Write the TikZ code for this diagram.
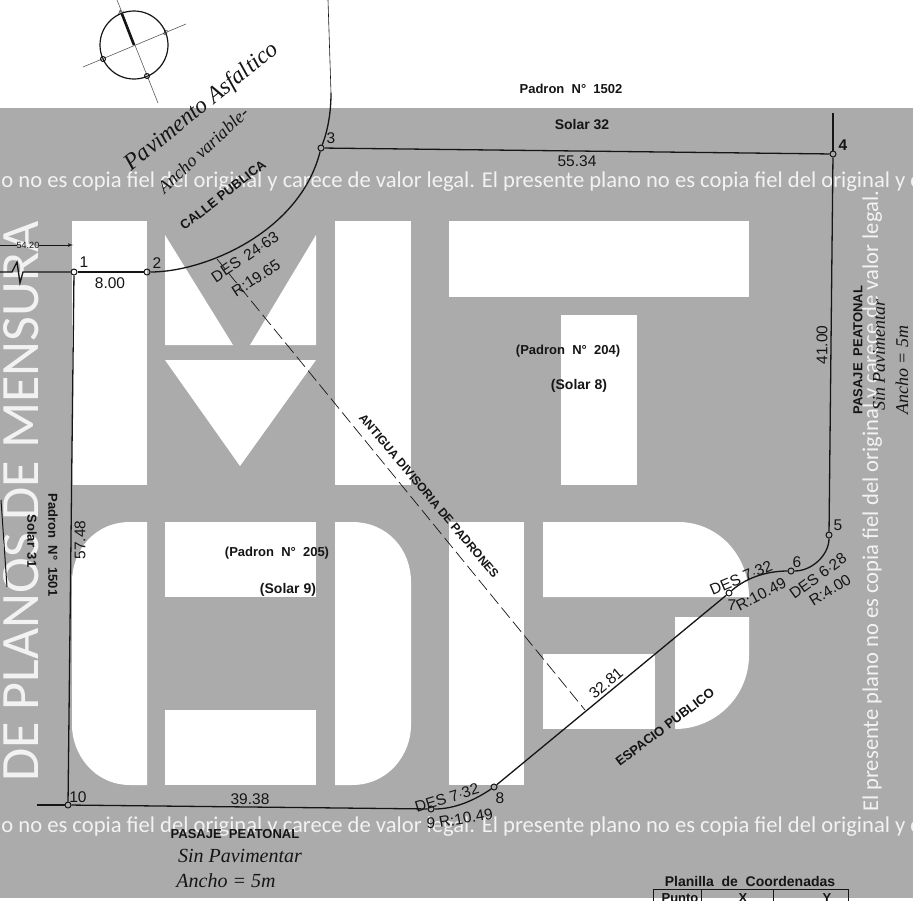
\documentclass[tikz,border=0pt]{standalone}
\usepackage{fontspec}
\setmainfont{Liberation Sans}
\newfontfamily\markfont{Carlito}
\newfontfamily\handfont{Liberation Serif}
\usetikzlibrary{arrows,positioning}
\definecolor{sheet}{HTML}{ABABAB}
\definecolor{inkline}{HTML}{151515}
\tikzset{
        logo/.style = {fill=white, draw=none},
        vertex/.style = {circle, draw=inkline, line width=1pt, inner sep=0pt, minimum size=6pt},
        lot/.style = {draw=inkline, line width=1.3pt},
        lab/.style = {inner sep=0pt, text=inkline, font=\fontsize{15.5}{16}\selectfont},
        bold/.style = {inner sep=0pt, text=inkline, font=\fontsize{13}{14}\selectfont\bfseries},
        solar/.style = {bold, font=\fontsize{14}{15}\selectfont\bfseries},
        hand/.style = {inner sep=0pt, text=inkline, font=\fontsize{20}{21}\selectfont\handfont\itshape},
        handside/.style = {hand, rotate=90, font=\fontsize{18}{19}\selectfont\handfont\itshape},
        wmark/.style = {inner sep=0pt, text=white, text opacity=.85, font=\fontsize{22.6}{24}\selectfont\markfont},
    }

\begin{document}
\begin{tikzpicture}[x=1pt, y=-1pt, >=latex']
    \useasboundingbox (0,0) rectangle (913,900);
    \clip (0,0) rectangle (913,900);
    \fill [sheet] (0,108) rectangle (913,898);

    % logo M
    \fill [logo] (72,221) rectangle (147,485);
    \fill [logo] (165,235) -- (233,345) -- (165,345) -- cycle;
    \fill [logo] (316,235) -- (316,345) -- (250,345) -- cycle;
    \fill [logo] (165,360) -- (316,360) -- (240,466) -- cycle;
    \fill [logo] (335,221) rectangle (411,485);
    % logo T
    \fill [logo] (449,221) rectangle (749,297);
    \fill [logo] (561,315) rectangle (637,485);
    % logo O
    \fill [logo] (147,522) -- (147,785) -- (130,785) .. controls (95,785) and (72,755) .. (72,725) -- (72,582) .. controls (72,550) and (95,522) .. (130,522) -- cycle;
    \fill [logo] (165,522) rectangle (316,597);
    \fill [logo] (165,710) rectangle (316,785);
    \fill [logo] (335,522) -- (335,785) -- (352,785) .. controls (388,785) and (411,755) .. (411,725) -- (411,582) .. controls (411,550) and (388,522) .. (352,522) -- cycle;
    % logo P
    \fill [logo] (449,522) rectangle (524,785);
    \fill [logo] (543,522) -- (678,522) .. controls (718,522) and (749,555) .. (749,597) -- (543,597) -- cycle;
    \fill [logo] (543,654) rectangle (655,729);
    \fill [logo] (675,617) -- (749,617) -- (749,655) .. controls (749,697) and (715,729) .. (675,729) -- cycle;

    % watermark
    \node [wmark, anchor=base west] (mark1) at (-146,187) {El presente plano no es copia fiel del original y carece de valor legal. El presente plano no es copia fiel del original y carece de valor legal.};
    \node [wmark, anchor=base west] (mark2) at (-146,832) {El presente plano no es copia fiel del original y carece de valor legal. El presente plano no es copia fiel del original y carece de valor legal.};
    \node [wmark, anchor=base west, rotate=90] (mark3) at (878,812) {El presente plano no es copia fiel del original y carece de valor legal.};
    \node [wmark, anchor=base west, rotate=90, font=\fontsize{54}{56}\selectfont\markfont] (mark4) at (38,782) {DE PLANOS DE MENSURA};

    % vertices of the plot
    \node [vertex] (p1) at (74,272) {};
    \node [vertex] (p2) at (147,272) {};
    \node [vertex] (p3) at (321,148) {};
    \node [vertex] (p4) at (833,154) {};
    \node [vertex] (p5) at (829,535) {};
    \node [vertex] (p6) at (791,571) {};
    \node [vertex] (p7) at (729,593) {};
    \node [vertex] (p8) at (494,787) {};
    \node [vertex] (p9) at (431,809) {};
    \node [vertex] (p10) at (68,805) {};

    \coordinate (west) at (0,272);
    \coordinate (northend) at (833,113);
    \coordinate (southend) at (37,805);
    \coordinate (bend) at (331,93);
    \coordinate (topend) at (328,0);
    \coordinate (oldtop) at (217,259);
    \coordinate (oldend) at (585,710);
    \coordinate (edgetop) at (1,500);
    \coordinate (edgebot) at (7,587);

    \draw [lot] (p1) -- (p2);
    \draw [lot] (p2) .. controls (205,272) and (300,232) .. (p3);
    \draw [lot] (p3) -- (p4);
    \draw [lot] (p4) -- (p5);
    \draw [lot] (p5) .. controls (829,555) and (812,571) .. (p6);
    \draw [lot] (p6) .. controls (770,571) and (748,576) .. (p7);
    \draw [lot] (p7) -- (p8);
    \draw [lot] (p8) .. controls (475,800) and (455,809) .. (p9);
    \draw [lot] (p9) -- (p10);
    \draw [lot] (p10) -- (p1);
    \draw [lot] (p4) -- (northend);
    \draw [lot] (p10) -- (southend);
    \draw [lot] (p3) .. controls (328,130) and (331,112) .. (bend);
    \draw [draw=inkline, line width=.6pt] (bend) -- (topend);
    \draw [lot] (west) -- (12,272) -- (17,262) -- (20,283) -- (23,272) -- (p1);
    \draw [draw=inkline, line width=.7pt, dash pattern=on 13pt off 5pt] (oldtop) -- (oldend);
    \draw [draw=inkline, line width=1pt] (edgetop) -- (edgebot);

    % side dimension
    \node [inner sep=0pt, text=inkline, font=\fontsize{9}{10}\selectfont] (width) at (28,245) {54.20};
    \coordinate (widthwest) at (0,245);
    \coordinate (widtheast) at (73,245);
    \draw [draw=inkline, line width=.8pt] (widthwest) -- (width);
    \draw [->, draw=inkline, line width=.8pt] (width) -- (widtheast);

    % vertex numbers
    \node [lab] (n1) at (84,262) {1};
    \node [lab] (n2) at (157,263) {2};
    \node [lab] (n3) at (331,138) {3};
    \node [lab] (n4) at (843,145) {\textbf{4}};
    \node [lab] (n5) at (838,525) {5};
    \node [lab] (n6) at (797,562) {6};
    \node [lab] (n7) at (732,605) {7};
    \node [lab] (n8) at (500,798) {8};
    \node [lab] (n9) at (431,823) {9};
    \node [lab] (n10) at (78,797) {10};

    % measures
    \node [lab] (m12) at (110,283) {8.00};
    \node [lab] (m34) at (577,161) {55.34};
    \node [lab, rotate=90] (m45) at (822,345) {41.00};
    \node [lab, rotate=90] (m101) at (80,540) {57.48};
    \node [lab] (m910) at (250,799) {39.38};
    \node [lab, rotate=40] (m78) at (606,683) {32.81};
    \node [lab, rotate=34] (des1) at (245,257) {DES\, 24$\cdot$63};
    \node [lab, rotate=33] (rad1) at (256,278) {R:19.65};
    \node [lab, rotate=23] (des2) at (741,578) {DES 7$\cdot$32};
    \node [lab, rotate=28] (rad2) at (761,594) {R:10.49};
    \node [lab, rotate=36] (des3) at (818,576) {DES 6$\cdot$28};
    \node [lab, rotate=32] (rad3) at (830,590) {R:4.00};
    \node [lab, rotate=17] (des4) at (447,798) {DES 7$\cdot$32};
    \node [lab, rotate=10] (rad4) at (466,818) {R:10.49};

    % plot names
    \node [bold] (pad1502) at (571,89) {Padron\; N°\; 1502};
    \node [solar] (sol32) at (582,125) {Solar 32};
    \node [bold] (pad204) at (568,351) {(Padron\; N°\; 204)};
    \node [solar, below=35pt of pad204.center, anchor=center, xshift=11pt] (sol8) {(Solar 8)};
    \node [bold] (pad205) at (277,553) {(Padron\; N°\; 205)};
    \node [solar, below=37pt of pad205.center, anchor=center, xshift=11pt] (sol9) {(Solar 9)};
    \node [bold, rotate=-90] (pad1501) at (53,545) {Padron\; N°\; 1501};
    \node [bold, rotate=-90] (sol31) at (32,541) {Solar\, 31};
    \node [bold, rotate=38] (calle) at (223,195) {CALLE PUBLICA};
    \node [bold, rotate=-50, font=\fontsize{12}{13}\selectfont\bfseries] (antigua) at (429,496) {ANTIGUA DIVISORIA DE PADRONES};
    \node [bold, rotate=37] (espacio) at (665,727) {ESPACIO PUBLICO};
    \node [bold] (pasajes) at (235,834) {PASAJE\; PEATONAL};
    \node [bold, rotate=90] (pasajee) at (858,350) {PASAJE\; PEATONAL};

    % handwriting
    \node [hand, rotate=39, font=\fontsize{23.5}{25}\selectfont\handfont\itshape] (asfalto) at (202,107) {Pavimento Asfaltico};
    \node [hand, rotate=43, font=\fontsize{18}{19}\selectfont\handfont\itshape] (variable) at (203,150) {Ancho variable-};
    \node [hand] (sinp) at (240,856) {Sin Pavimentar};
    \node [hand] (anchos) at (226,881) {Ancho = 5m};
    \node [handside] (sine) at (879,355) {Sin Pavimentar};
    \node [handside] (anchoe) at (902,370) {Ancho = 5m};

    % north mark
    \node [circle, draw=inkline, line width=1.2pt, inner sep=0pt, minimum size=68pt] (compass) at (134,45) {};
    \coordinate (ntop) at (117,0);
    \coordinate (nbot) at (158,103);
    \coordinate (ewest) at (83,67);
    \coordinate (eeast) at (186,24);
    \coordinate (ntip) at (122,14);
    \draw [draw=black!65, line width=.6pt] (ntop) -- (nbot);
    \draw [draw=black!65, line width=.6pt] (ewest) -- (eeast);
    \draw [draw=inkline, line width=2.6pt] (ntip) -- (compass.center);
    \node [vertex, minimum size=5pt] (wmarker) at (103,59) {};
    \node [vertex, minimum size=5pt] (smarker) at (147,76) {};
    \node [inner sep=0pt, text=inkline, rotate=-20, font=\fontsize{7}{7}\selectfont] (nmarker) at (121,13) {N};
    \node [inner sep=0pt, text=inkline, rotate=-20, font=\fontsize{7}{7}\selectfont] (emarker) at (166,33) {E};

    % coordinates table
    \node [bold, font=\fontsize{14}{15}\selectfont\bfseries] (planilla) at (750,881) {Planilla\; de\; Coordenadas};
    \coordinate (tableleft) at (653,889);
    \coordinate (tableright) at (848,889);
    \draw [draw=inkline, line width=1pt] (653,901) -- (tableleft) -- (tableright) -- (848,901);
    \draw [draw=inkline, line width=1pt] (701,889) -- (701,901);
    \draw [draw=inkline, line width=1pt] (773,889) -- (773,901);
    \node [bold] (hpunto) at (680,898) {Punto};
    \node [bold] (hx) at (743,898) {X};
    \node [bold] (hy) at (827,898) {Y};

\end{tikzpicture}
\end{document}
